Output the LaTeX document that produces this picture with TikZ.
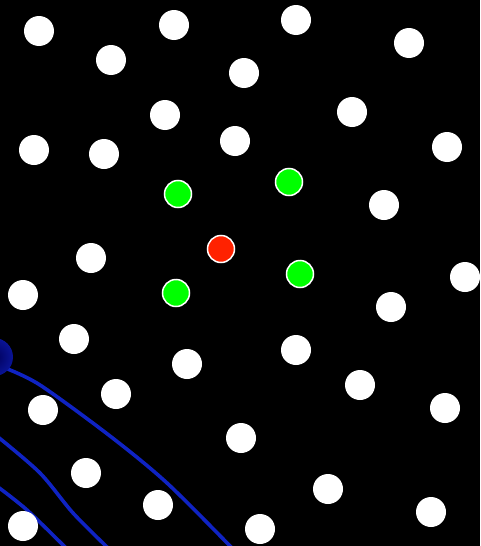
\documentclass[tikz,border=0pt]{standalone}
\begin{document}
\begin{tikzpicture}[x=1pt,y=-1pt,
  wdot/.style={circle,fill=white,minimum size=30pt,inner sep=0pt},
  gdot/.style={circle,fill=green,draw=white,line width=1.5pt,minimum size=27pt,inner sep=0pt},
  rdot/.style={circle,fill={rgb,255:red,255;green,34;blue,0},draw=white,line width=1.5pt,minimum size=27pt,inner sep=0pt},
  bline/.style={draw={rgb,255:red,15;green,35;blue,195},line width=3.6pt}]
\fill[black] (0,0) rectangle (480,546);
\useasboundingbox (0,0) rectangle (480,546);
\begin{scope}
\clip (0,0) rectangle (480,546);
\coordinate (l1a) at (5,368);
\coordinate (l1e) at (232,548);
\draw[bline] plot[smooth,tension=0.5] coordinates {(l1a) (40,385) (110,436) (167,483) (l1e)};
\coordinate (l2a) at (-2,437);
\coordinate (l2e) at (108,548);
\draw[bline] plot[smooth,tension=0.5] coordinates {(l2a) (40,473) (73,513) (l2e)};
\coordinate (l3a) at (-2,487);
\coordinate (l3e) at (66,548);
\draw[bline] plot[smooth,tension=0.5] coordinates {(l3a) (27,510) (l3e)};
\shade[inner color={rgb,255:red,0;green,0;blue,90},outer color={rgb,255:red,10;green,20;blue,150}] (-6,357) circle (19);
\end{scope}
\foreach \x/\y [count=\i] in {39/31,111/60,174/25,296/20,244/73,409/43,165/115,352/112,34/150,104/154,235/141,447/147,384/205,91/258,23/295,465/277,391/307,74/339,187/364,296/350,116/394,43/410,360/385,445/408,241/438,86/473,328/489,158/505,431/512,23/526,260/529}
  \node[wdot] (w\i) at (\x,\y) {};
\node[gdot] (g1) at (178,194) {};
\node[gdot] (g2) at (289,182) {};
\node[gdot] (g3) at (300,274) {};
\node[gdot] (g4) at (176,293) {};
\node[rdot] (r1) at (221,249) {};
\end{tikzpicture}
\end{document}
